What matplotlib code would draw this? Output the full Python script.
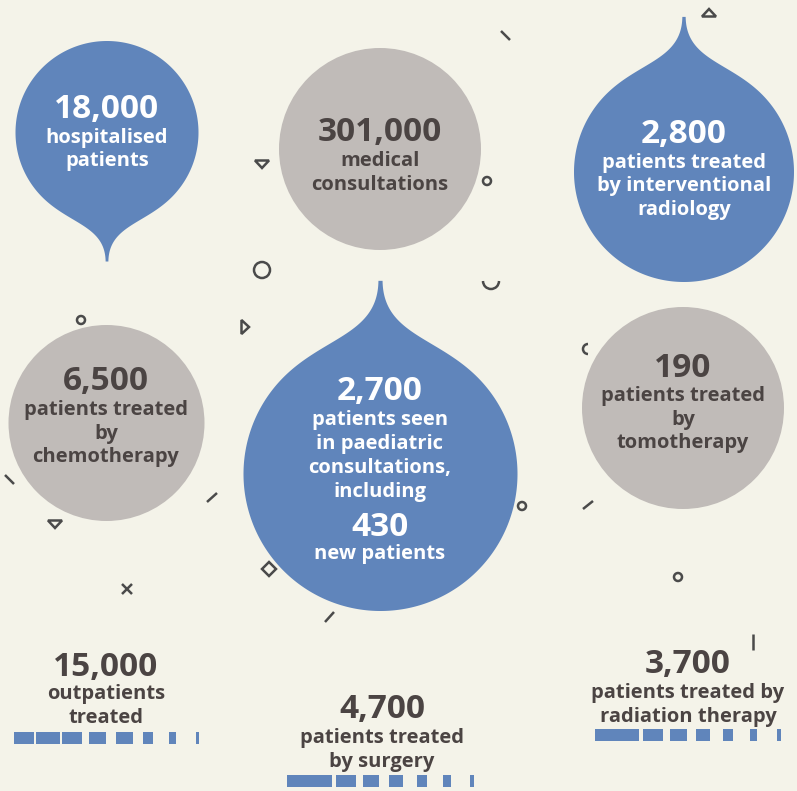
import numpy as np
import matplotlib.pyplot as plt
from matplotlib.patches import Polygon, Circle, Rectangle, Arc

# key figures shown in the bubbles
bubble_numbers = ['18,000', '301,000', '2,800', '6,500', '2,700', '190']
bubble_labels = [
    ['hospitalised', 'patients'],
    ['medical', 'consultations'],
    ['patients treated', 'by interventional', 'radiology'],
    ['patients treated', 'by', 'chemotherapy'],
    ['patients seen', 'in paediatric', 'consultations,', 'including'],
    ['patients treated', 'by', 'tomotherapy'],
]
paed_new_number = '430'
paed_new_label = 'new patients'

# key figures at the bottom, with their fading bar strips
bottom_numbers = ['15,000', '4,700', '3,700']
bottom_labels = [
    ['outpatients', 'treated'],
    ['patients treated', 'by surgery'],
    ['patients treated by', 'radiation therapy'],
]
bar_starts = [
    [14, 36, 62, 89, 116, 142.7, 169.3, 196],
    [287.3, 336, 362.7, 389.3, 416.7, 443.3, 470],
    [595, 642.7, 670, 696, 722.7, 750, 776.7],
]
bar_widths = [
    [20.3, 24, 19.7, 17, 16.7, 10.6, 6.7, 3.3],
    [44.4, 20, 16.6, 13.4, 10.6, 7.4, 4],
    [44.3, 20, 16.7, 14, 10.6, 6.7, 4],
]

BG = '#f4f3e9'
BLUE = '#6085bb'
GREY = '#c0bbb8'
DARK = '#4b4443'
LINE = '#4a4a4a'
FONT = 'Open Sans'
NUM_SIZE = 24
LAB_SIZE = 14.5


def bez(a, b, c, d, n=60):
    t = np.linspace(0, 1, n)[:, None]
    a, b, c, d = map(np.array, (a, b, c, d))
    return (1-t)**3*a + 3*(1-t)**2*t*b + 3*(1-t)*t**2*c + t**3*d


def drop(cx, cy, r, up):
    th = np.radians(45)
    p0 = (np.sin(th), np.cos(th))
    k = 0.42
    p1 = (p0[0] - k*np.cos(th), p0[1] + k*np.sin(th))
    p2 = (0.02, 1.02)
    p3 = (0.015, 1.41)
    right = bez(p3, p2, p1, p0)
    ang = np.linspace(th, 2*np.pi - th, 300)
    arc = np.column_stack([np.sin(ang), np.cos(ang)])
    left = (bez(p0, p1, p2, p3) * [-1, 1])
    pts = np.vstack([right, arc, left])
    sgn = -1 if up else 1
    return np.column_stack([cx + r*pts[:, 0], cy + sgn*r*pts[:, 1]])


fig = plt.figure(figsize=(7.97, 7.91), dpi=100)
fig.patch.set_facecolor(BG)
ax = fig.add_axes([0, 0, 1, 1])
ax.set_xlim(0, 797)
ax.set_ylim(791, 0)
ax.axis('off')

# bubbles: (cx, cy, r, kind)
shapes = [
    (107, 132.5, 91.5, 'down'),
    (380, 149, 101, 'circle'),
    (684, 172, 110, 'up'),
    (106.5, 423, 98, 'circle'),
    (380.5, 474, 137, 'up'),
    (683, 408, 101, 'circle'),
]
for cx, cy, r, kind in shapes:
    if kind == 'circle':
        ax.add_patch(Circle((cx, cy), r, color=GREY, lw=0))
    else:
        ax.add_patch(Polygon(drop(cx, cy, r, kind == 'up'), closed=True,
                             color=BLUE, lw=0))

# text positions: number baseline, first label baseline, line step
text_pos = [
    (107, 118, 143, 23),
    (380, 141, 166, 24),
    (684, 143, 168, 23.5),
    (106, 390, 415, 23.5),
    (380, 400, 425, 24),
    (683, 377, 401, 23.5),
]
for i, (x, yn, yl, step) in enumerate(text_pos):
    col = 'white' if shapes[i][3] != 'circle' else DARK
    ax.text(x, yn, bubble_numbers[i], ha='center', va='baseline', color=col,
            fontsize=NUM_SIZE, fontweight='bold', family=FONT)
    for j, line in enumerate(bubble_labels[i]):
        ax.text(x, yl + j*step, line, ha='center', va='baseline', color=col,
                fontsize=LAB_SIZE, fontweight='bold', family=FONT)
ax.text(380, 536, paed_new_number, ha='center', va='baseline', color='white',
        fontsize=NUM_SIZE, fontweight='bold', family=FONT)
ax.text(380, 559, paed_new_label, ha='center', va='baseline', color='white',
        fontsize=LAB_SIZE, fontweight='bold', family=FONT)

# bottom figures
bottom_pos = [(106, 676, 699, 732), (382, 718, 743, 775), (688, 673, 698, 729)]
for i, (x, yn, yl, yb) in enumerate(bottom_pos):
    ax.text(x, yn, bottom_numbers[i], ha='center', va='baseline', color=DARK,
            fontsize=NUM_SIZE, fontweight='bold', family=FONT)
    for j, line in enumerate(bottom_labels[i]):
        ax.text(x, yl + j*24, line, ha='center', va='baseline', color=DARK,
                fontsize=LAB_SIZE, fontweight='bold', family=FONT)
    for s, w in zip(bar_starts[i], bar_widths[i]):
        ax.add_patch(Rectangle((s, yb), w, 11.5, color=BLUE, lw=0))

# decorative scribbles
kw = dict(color=LINE, lw=1.8, solid_capstyle='butt')
for (x0, y0, x1, y1) in [(501, 31, 510, 40), (5, 475, 14, 484),
                         (207, 502, 217, 493), (583, 509, 593, 501),
                         (325, 622, 334, 612), (753, 634, 753, 650)]:
    ax.plot([x0, x1], [y0, y1], **kw)
for (x, y, r) in [(487, 181, 4), (262, 270, 8), (81, 320, 4),
                  (522, 506, 4), (678, 577, 4)]:
    ax.add_patch(Circle((x, y), r, fill=False, ec=LINE, lw=1.8))
# triangles
for (x, y, d) in [(262, 164, 'down'), (709, 13, 'up'),
                  (245, 327, 'right'), (55, 524, 'down')]:
    if d == 'down':
        p = [(x-7, y-3.5), (x+7, y-3.5), (x, y+4)]
    elif d == 'up':
        p = [(x-7, y+3.5), (x+7, y+3.5), (x, y-4)]
    else:
        p = [(x-3.5, y-7), (x-3.5, y+7), (x+4, y)]
    ax.add_patch(Polygon(p, closed=True, fill=False, ec=LINE, lw=1.8))
# diamond and cross
ax.add_patch(Polygon([(269, 562), (276, 569), (269, 576), (262, 569)],
                     closed=True, fill=False, ec=LINE, lw=1.8))
ax.plot([122, 132], [584, 594], **kw)
ax.plot([122, 132], [594, 584], **kw)
# open arcs
ax.add_patch(Arc((491, 281), 16, 16, theta1=0, theta2=180, color=LINE, lw=1.8))
ax.add_patch(Arc((588, 349), 10, 10, theta1=90, theta2=270, color=LINE, lw=1.8))

fig.savefig('out.png', dpi=100, facecolor=BG)
